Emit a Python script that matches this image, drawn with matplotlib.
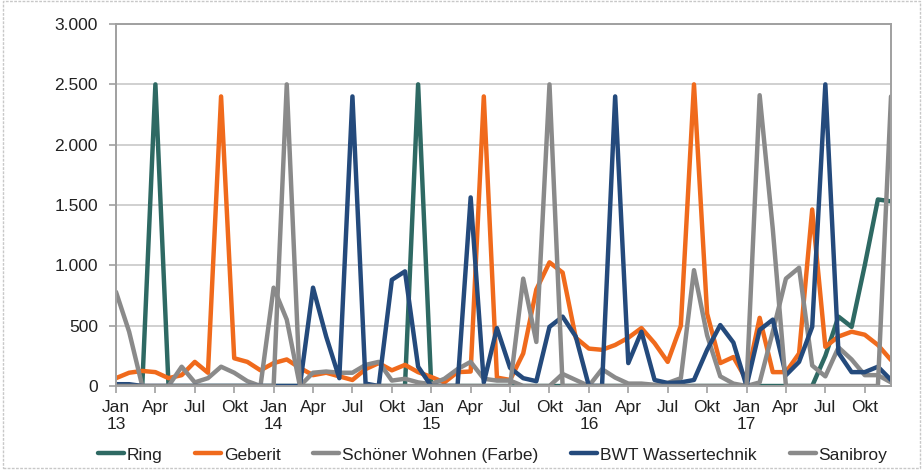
import matplotlib
matplotlib.use("Agg")
import matplotlib.pyplot as plt
import numpy as np
from matplotlib.ticker import FuncFormatter
from matplotlib.patches import Rectangle

plt.rcParams['font.family'] = ['Liberation Sans', 'DejaVu Sans']

# monatswerte Jan 2013 - Dez 2017
jahre = ["13", "14", "15", "16", "17"]
quartale = ["Jan", "Apr", "Jul", "Okt"]

ring = [0, 0, 0, 2500, 0, 0, 0, 0, 0, 0, 0, 0,
        0, 0, 0, 0, 0, 0, 0, 0, 0, 0, 0, 2500,
        0, 0, 0, 0, 0, 0, 0, 0, 0, 0, 0, 0,
        0, 0, 0, 0, 0, 0, 0, 0, 0, 0, 0, 0,
        0, 0, 0, 0, 0, 0, 250, 575, 490, 1000, 1546, 1530]

geberit = [65, 110, 125, 115, 65, 90, 200, 110, 2400, 230, 200, 130,
           190, 220, 150, 90, 110, 80, 50, 140, 190, 130, 175, 115,
           75, 30, 115, 120, 2400, 70, 50, 270, 800, 1025, 940, 400,
           310, 300, 340, 400, 480, 355, 200, 500, 2500, 600, 190, 240,
           50, 565, 115, 115, 270, 1463, 325, 410, 450, 425, 340, 215]

schoener_wohnen = [780, 450, 0, 0, 0, 160, 30, 65, 160, 110, 40, 0,
                   815, 550, 0, 110, 120, 110, 110, 175, 200, 45, 60, 30,
                   15, 60, 140, 200, 60, 45, 45, 0, 0, 0, 100, 50,
                   0, 140, 70, 20, 20, 10, 25, 65, 960, 420, 80, 20,
                   0, 30, 450, 890, 980, 170, 80, 320, 220, 90, 90, 30]

bwt = [15, 15, 0, 0, 0, 0, 0, 0, 0, 0, 0, 0,
       0, 0, 0, 815, 410, 65, 2400, 20, 0, 880, 950, 160,
       0, 0, 0, 1563, 30, 480, 150, 65, 40, 490, 575, 410,
       0, 0, 2400, 190, 450, 50, 25, 30, 50, 300, 505, 360,
       0, 465, 550, 90, 200, 490, 2500, 275, 115, 115, 160, 50]

sanibroy = [0, 0, 0, 0, 0, 0, 0, 0, 0, 0, 0, 0,
            0, 2500, 0, 0, 0, 0, 0, 0, 0, 0, 0, 0,
            0, 0, 0, 0, 0, 0, 0, 890, 365, 2500, 0, 0,
            0, 0, 0, 0, 0, 0, 0, 0, 0, 0, 0, 0,
            0, 2410, 1300, 0, 0, 0, 0, 0, 0, 0, 0, 2400]

namen = ["Ring", "Geberit", "Schöner Wohnen (Farbe)", "BWT Wassertechnik", "Sanibroy"]
farben = ["#2E6963", "#F06A1C", "#8A8A8A", "#244A7C", "#8A8A8A"]

fig = plt.figure(figsize=(9.22, 4.70), dpi=100)
ax = fig.add_axes([0.1258, 0.1787, 0.8406, 0.7702])

x = np.arange(len(ring))
for werte, name, farbe in zip([ring, geberit, schoener_wohnen, bwt, sanibroy], namen, farben):
    ax.plot(x, werte, color=farbe, lw=3.2, label=name, solid_joinstyle='round', solid_capstyle='round')

ax.set_xlim(0, len(ring) - 1)
ax.set_ylim(0, 3000)
ax.set_yticks(np.arange(0, 3001, 500))
ax.yaxis.set_major_formatter(FuncFormatter(lambda v, p: "{:,.0f}".format(v).replace(",", ".")))

labels = []
for j in jahre:
    for q in quartale:
        labels.append(q + "\n" + j if q == "Jan" else q)
ax.set_xticks(np.arange(0, len(ring), 3))
ax.set_xticklabels(labels, linespacing=1.15)

ax.grid(axis='y', color='#C4C4C4', lw=1.1)
ax.set_axisbelow(True)
for s in ax.spines.values():
    s.set_color('#A0A0A0')
    s.set_linewidth(1.4)
ax.tick_params(axis='both', colors='#A0A0A0', length=5, width=1.2, labelcolor='#222222', labelsize=12.5)
ax.tick_params(axis='y', pad=8)
ax.tick_params(axis='x', pad=5)

leg = fig.legend(loc='center', bbox_to_anchor=(0.534, 0.032), ncol=5, frameon=False,
                 fontsize=12.5, handlelength=1.5, handletextpad=0.15, columnspacing=1.9)
for t in leg.get_texts():
    t.set_color('#222222')

fig.patches.append(Rectangle((0.003, 0.004), 0.995, 0.993, transform=fig.transFigure,
                             fill=False, ec='#C8C8C8', lw=1, ls=(0, (2, 1))))

plt.savefig("out.png", dpi=100)
